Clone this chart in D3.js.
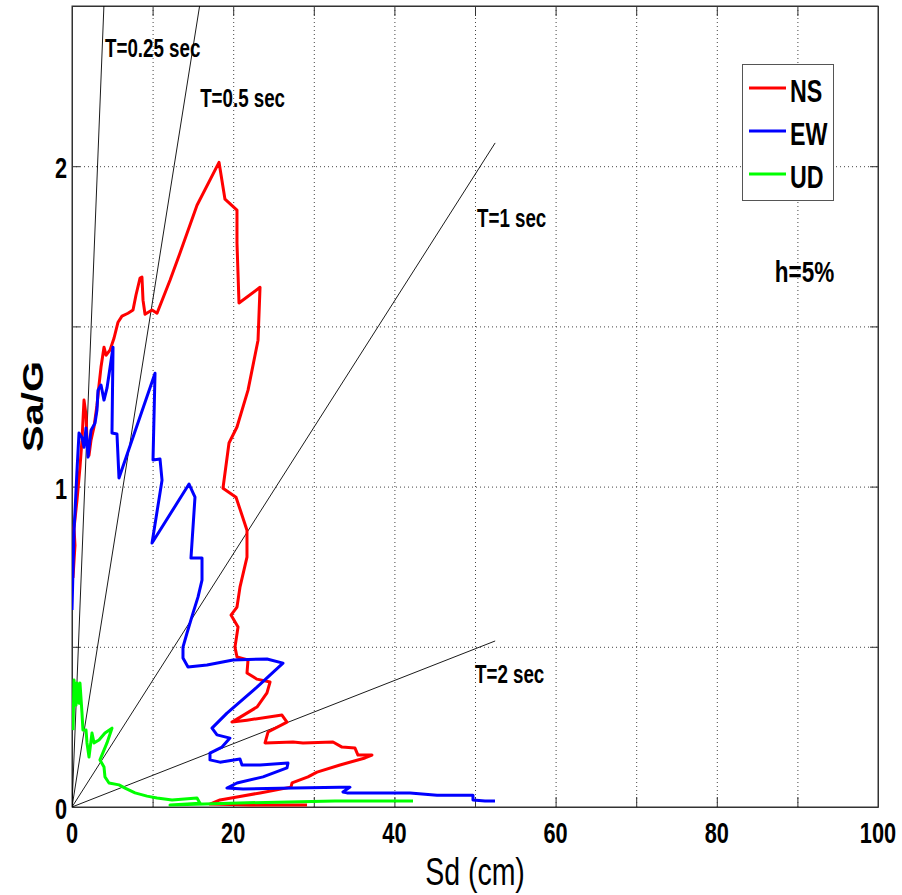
<!DOCTYPE html>
<html>
<head>
<meta charset="utf-8">
<script src="https://cdn.jsdelivr.net/npm/d3@7"></script>
<style>
  body { margin: 0; background: #fff; }
  svg { display: block; font-family: "Liberation Sans", Arial, Helvetica, sans-serif; }
</style>
</head>
<body>
<div id="chart"></div>
<script>
// spectral displacement (cm) and pseudo-acceleration (Sa/G)
const nsSd = [0.12, 0.37, 0.25, 0.62, 0.99, 1.24, 1.49, 1.74, 1.86, 2.11, 2.36, 2.73, 3.10, 3.35, 3.60, 3.97, 4.22, 4.71, 5.21, 5.71,
  6.20, 6.95, 7.57, 7.94, 8.44, 8.68, 8.81, 9.06, 9.93, 10.55, 12.16, 13.40, 15.51, 18.24, 18.98, 20.47, 20.47, 20.72, 23.33, 23.08,
  21.84, 20.47, 19.48, 18.73, 20.35, 21.71, 21.71, 20.84, 20.47, 19.73, 20.60, 20.22, 20.47, 21.84, 21.71, 22.95, 24.57, 24.19, 22.95, 19.85,
  21.71, 26.05, 26.67, 24.32, 23.95, 27.42, 28.66, 32.38, 33.50, 35.11, 35.48, 37.22, 36.35, 33.25, 30.40, 29.28, 27.30, 27.17, 23.33, 20.47,
  18.36, 17.12, 22.08, 29.16];
const nsSa = [0.715, 0.817, 0.870, 0.958, 1.061, 1.145, 1.270, 1.223, 1.145, 1.098, 1.145, 1.186, 1.254, 1.317, 1.373, 1.435, 1.410, 1.426, 1.463, 1.513,
  1.532, 1.541, 1.551, 1.598, 1.651, 1.654, 1.582, 1.538, 1.551, 1.541, 1.644, 1.729, 1.878, 2.012, 1.897, 1.863, 1.760, 1.573, 1.622, 1.457,
  1.301, 1.186, 1.136, 0.995, 0.967, 0.864, 0.780, 0.686, 0.624, 0.599, 0.562, 0.499, 0.468, 0.459, 0.418, 0.399, 0.390, 0.356, 0.312, 0.265,
  0.271, 0.287, 0.265, 0.234, 0.200, 0.203, 0.200, 0.203, 0.187, 0.184, 0.162, 0.162, 0.153, 0.131, 0.109, 0.094, 0.075, 0.062, 0.044, 0.031,
  0.022, 0.009, 0.006, 0.006];

const ewSd = [0.0, 0.25, 0.37, 0.62, 0.87, 1.24, 1.49, 1.74, 1.99, 2.36, 2.85, 3.10, 3.23, 3.60, 3.97, 4.34, 5.09, 4.96, 5.58, 5.83,
  10.30, 10.05, 10.92, 11.17, 9.93, 14.52, 15.26, 14.76, 16.13, 16.13, 15.63, 15.01, 14.27, 13.77, 13.77, 14.39, 16.75, 19.98, 24.19, 26.18,
  22.95, 19.23, 17.37, 17.99, 19.60, 18.61, 17.12, 17.12, 18.36, 20.84, 21.09, 23.33, 26.80, 26.67, 23.70, 20.47, 19.23, 21.22, 27.42, 33.25,
  34.49, 33.62, 34.12, 41.94, 45.29, 49.75, 49.75, 51.24, 52.48];
const ewSa = [0.615, 0.864, 0.920, 1.051, 1.167, 1.154, 1.123, 1.183, 1.092, 1.176, 1.198, 1.239, 1.301, 1.317, 1.270, 1.307, 1.435, 1.167, 1.164, 1.027,
  1.354, 1.083, 1.086, 1.020, 0.824, 1.008, 0.967, 0.777, 0.777, 0.708, 0.655, 0.605, 0.543, 0.499, 0.465, 0.437, 0.443, 0.459, 0.462, 0.449,
  0.374, 0.293, 0.246, 0.225, 0.215, 0.187, 0.168, 0.147, 0.140, 0.150, 0.131, 0.131, 0.137, 0.122, 0.094, 0.075, 0.059, 0.056, 0.059, 0.062,
  0.062, 0.047, 0.044, 0.044, 0.037, 0.037, 0.022, 0.019, 0.019];

const udSd = [0.12, 0.25, 0.50, 0.62, 0.87, 0.99, 1.24, 1.36, 1.74, 1.86, 2.11, 2.48, 2.73, 3.35, 4.09, 4.96, 4.34, 3.47, 3.97, 4.09,
  4.59, 5.83, 6.58, 7.82, 9.31, 10.55, 12.41, 15.51, 15.88, 12.16, 19.60, 32.63, 42.31];
const udSa = [0.240, 0.396, 0.318, 0.387, 0.324, 0.387, 0.293, 0.240, 0.240, 0.200, 0.156, 0.231, 0.200, 0.209, 0.231, 0.246, 0.200, 0.147, 0.125, 0.094,
  0.075, 0.069, 0.059, 0.044, 0.034, 0.028, 0.022, 0.028, 0.012, 0.006, 0.012, 0.019, 0.019];

const seriesNames = ["NS", "EW", "UD"];
const seriesColors = ["#ff0000", "#0000ff", "#00ff00"];

// constant-period lines, T in seconds
const periods = [0.25, 0.5, 1, 2];
const periodLabels = ["T=0.25 sec", "T=0.5 sec", "T=1 sec", "T=2 sec"];
const periodLabelSd = [4.1, 15.9, 50.25, 50.0];
const periodLabelSa = [2.34, 2.185, 1.81, 0.387];
const periodLineEnd = 52.5;
const g = 1000;

const xTicks = d3.range(0, 101, 10);
const xLabels = [0, 20, 40, 60, 80, 100];
const yTicks = [0, 0.5, 1, 1.5, 2, 2.5];
const yLabels = [0, 1, 2];

const width = 902, height = 895;
const margin = { top: 6, right: 24, bottom: 88, left: 72 };
const SX = 0.75; // the figure is squeezed horizontally

const x = d3.scaleLinear().domain([0, 100]).range([margin.left, width - margin.right]);
const y = d3.scaleLinear().domain([0, 2.5]).range([height - margin.bottom, margin.top]);

const svg = d3.select("#chart").append("svg")
  .attr("width", width)
  .attr("height", height);

function label(sel, px, py, str, size, weight, anchor) {
  return sel.append("text")
    .attr("transform", `translate(${px},${py}) scale(${SX},1)`)
    .attr("font-size", size)
    .attr("font-weight", weight)
    .attr("text-anchor", anchor || "start")
    .attr("fill", "#000")
    .text(str);
}

svg.append("defs").append("clipPath").attr("id", "plot")
  .append("rect")
  .attr("x", x(0)).attr("y", y(2.5))
  .attr("width", x(100) - x(0)).attr("height", y(0) - y(2.5));

// grid
const grid = svg.append("g")
  .attr("stroke", "#444")
  .attr("stroke-width", 1)
  .attr("stroke-dasharray", "1,3");
grid.selectAll(".gx").data(xTicks.slice(1, -1)).join("line")
  .attr("x1", d => x(d) + 0.5).attr("x2", d => x(d) + 0.5)
  .attr("y1", y(0)).attr("y2", y(2.5));
grid.selectAll(".gy").data(yTicks.slice(1, -1)).join("line")
  .attr("x1", x(0)).attr("x2", x(100))
  .attr("y1", d => y(d) + 0.5).attr("y2", d => y(d) + 0.5);

// axes with inward ticks on all four sides
svg.append("g").attr("transform", `translate(0,${y(0)})`)
  .call(d3.axisBottom(x).tickValues(xTicks).tickSizeInner(-10).tickSizeOuter(0).tickFormat(""));
svg.append("g").attr("transform", `translate(0,${y(2.5)})`)
  .call(d3.axisTop(x).tickValues(xTicks).tickSizeInner(-10).tickSizeOuter(0).tickFormat(""));
svg.append("g").attr("transform", `translate(${x(0)},0)`)
  .call(d3.axisLeft(y).tickValues(yTicks).tickSizeInner(-8).tickSizeOuter(0).tickFormat(""));
svg.append("g").attr("transform", `translate(${x(100)},0)`)
  .call(d3.axisRight(y).tickValues(yTicks).tickSizeInner(-8).tickSizeOuter(0).tickFormat(""));
svg.selectAll(".domain, .tick line").attr("stroke", "#333");

svg.append("rect")
  .attr("x", x(0)).attr("y", y(2.5))
  .attr("width", x(100) - x(0)).attr("height", y(0) - y(2.5))
  .attr("fill", "none").attr("stroke", "#333");

// tick labels
xLabels.forEach(d => label(svg, x(d), y(0) + 36, d, 29, "bold", "middle"));
yLabels.forEach(d => label(svg, x(0) - 5, y(d) + 12, d, 29, "bold", "end"));

// axis titles
label(svg, (x(0) + x(100)) / 2, 885, "Sd (cm)", 38, "normal", "middle");
svg.append("text")
  .attr("transform", `translate(43,${(y(0) + y(2.5)) / 2}) rotate(-90) scale(1,0.73)`)
  .attr("font-size", 40)
  .attr("font-weight", "bold")
  .attr("text-anchor", "middle")
  .text("Sa/G");

const plot = svg.append("g").attr("clip-path", "url(#plot)");

// period lines
plot.selectAll(".period").data(periods).join("line")
  .attr("x1", x(0)).attr("y1", y(0))
  .attr("x2", x(periodLineEnd))
  .attr("y2", T => y(Math.pow(2 * Math.PI / T, 2) * periodLineEnd / g))
  .attr("stroke", "#000")
  .attr("stroke-width", 0.9);

// spectra
const line = d3.line().x(d => x(d[0])).y(d => y(d[1]));
const spectra = [d3.zip(nsSd, nsSa), d3.zip(ewSd, ewSa), d3.zip(udSd, udSa)];
plot.selectAll(".spec").data(spectra).join("path")
  .attr("d", line)
  .attr("fill", "none")
  .attr("stroke", (d, i) => seriesColors[i])
  .attr("stroke-width", 3)
  .attr("stroke-linejoin", "round");

// annotations
periodLabels.forEach((t, i) => label(svg, x(periodLabelSd[i]), y(periodLabelSa[i]), t, 25, "bold"));
label(svg, x(87.2), y(1.638), "h=5%", 30, "bold");

// legend
const legend = svg.append("g");
legend.append("rect")
  .attr("x", 742.5).attr("y", 64.5)
  .attr("width", 91).attr("height", 136)
  .attr("fill", "#fff").attr("stroke", "#555");
seriesNames.forEach((name, i) => {
  const ly = 88 + i * 43;
  legend.append("line")
    .attr("x1", 749).attr("x2", 786)
    .attr("y1", ly).attr("y2", ly)
    .attr("stroke", seriesColors[i]).attr("stroke-width", 3);
  label(legend, 790, ly + 14, name, 31, "bold");
});
</script>
</body>
</html>
